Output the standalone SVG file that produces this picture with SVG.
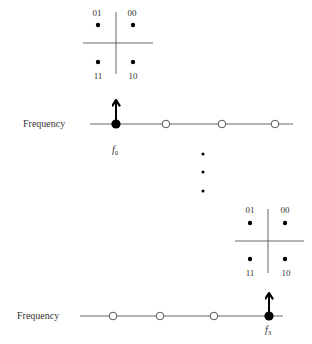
<svg xmlns="http://www.w3.org/2000/svg" width="312" height="344" viewBox="0 0 312 344">
<defs>
<style>
.t{font-family:"Liberation Serif","Times New Roman",serif;font-size:10px;fill:#333}
.n{font-family:"Liberation Serif","Times New Roman",serif;font-size:9px;fill:#333;text-anchor:middle}
.ax{stroke:#666;stroke-width:1;fill:none}
.oc{fill:#fff;stroke:#555;stroke-width:1}
.arr{stroke:#000;stroke-width:2;fill:none}
</style>
<marker id="ah" viewBox="0 0 10 10" refX="9" refY="5" markerWidth="4.5" markerHeight="4.5" orient="auto-start-reverse">
<path d="M2,0.5 L9,5 L2,9.5" fill="none" stroke="#000" stroke-width="2.4"/>
</marker>
</defs>
<rect width="312" height="344" fill="#fff"/>
<g id="constellation1">
<line class="ax" x1="116" y1="12" x2="116" y2="74"/>
<line class="ax" x1="83" y1="43" x2="153" y2="43"/>
<circle cx="98" cy="25" r="2.2" fill="#000"/>
<circle cx="133" cy="25" r="2.2" fill="#000"/>
<circle cx="98" cy="62" r="2.2" fill="#000"/>
<circle cx="133" cy="62" r="2.2" fill="#000"/>
<text class="n" x="97" y="16">01</text>
<text class="n" x="132" y="16">00</text>
<text class="n" x="98" y="79">11</text>
<text class="n" x="133" y="79">10</text>
</g>
<g id="freq1">
<text class="t" x="23" y="127">Frequency</text>
<line class="ax" x1="90" y1="124" x2="293" y2="124"/>
<circle class="oc" cx="166" cy="124" r="3.8"/>
<circle class="oc" cx="222" cy="124" r="3.8"/>
<circle class="oc" cx="275" cy="124" r="3.8"/>
<circle cx="116" cy="124" r="4.6" fill="#000"/>
<text class="t" x="112" y="153" font-style="italic">f<tspan font-size="7" font-style="normal" dy="2">0</tspan></text>
</g>
<g id="ellipsis">
<circle cx="203" cy="154" r="1.5" fill="#000"/>
<circle cx="203" cy="172" r="1.5" fill="#000"/>
<circle cx="203" cy="191" r="1.5" fill="#000"/>
</g>
<g id="constellation2">
<line class="ax" x1="268" y1="209" x2="268" y2="273"/>
<line class="ax" x1="235" y1="241" x2="304" y2="241"/>
<circle cx="250" cy="223" r="2.2" fill="#000"/>
<circle cx="285" cy="223" r="2.2" fill="#000"/>
<circle cx="250" cy="259" r="2.2" fill="#000"/>
<circle cx="285" cy="259" r="2.2" fill="#000"/>
<text class="n" x="250" y="213">01</text>
<text class="n" x="285" y="213">00</text>
<text class="n" x="250" y="276">11</text>
<text class="n" x="286" y="276">10</text>
</g>
<g id="freq2">
<text class="t" x="17" y="319">Frequency</text>
<line class="ax" x1="80" y1="316" x2="283" y2="316"/>
<circle class="oc" cx="113" cy="316" r="3.8"/>
<circle class="oc" cx="160" cy="316" r="3.8"/>
<circle class="oc" cx="214" cy="316" r="3.8"/>
<circle cx="269" cy="316" r="4.6" fill="#000"/>
<text class="t" x="265" y="333" font-style="italic">f<tspan font-size="7" font-style="normal" dy="2">3</tspan></text>
</g>
<g id="connectors">
<line class="arr" x1="116" y1="122" x2="116" y2="100" marker-end="url(#ah)"/>
<line class="arr" x1="269" y1="314" x2="269" y2="293" marker-end="url(#ah)"/>
</g>
</svg>
